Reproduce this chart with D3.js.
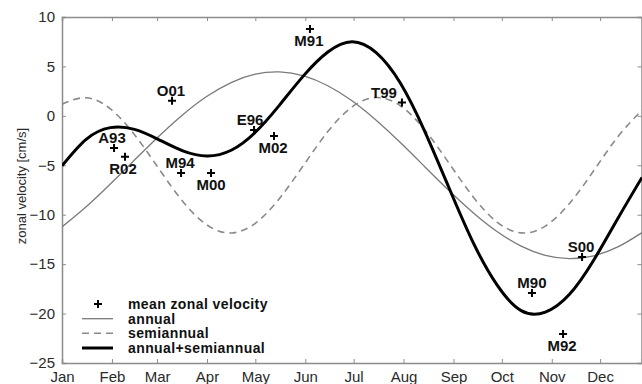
<!DOCTYPE html>
<html><head><meta charset="utf-8">
<script src="https://cdn.jsdelivr.net/npm/d3@7"></script>
<style>
html,body{margin:0;padding:0;background:#fff;}
svg{display:block;}
</style></head>
<body>
<script>
// ---- data ----
const months = ["Jan","Feb","Mar","Apr","May","Jun","Jul","Aug","Sep","Oct","Nov","Dec"];
const monthStartDay = [0,31,59,90,120,151,181,212,243,273,304,334];
const yTicks = [10,5,0,-5,-10,-15,-20,-25];

const sampleDay = [0,15,30,45,60,75,90,105,120,135,150,165,180,195,210,225,240,255,270,285,300,315,330,345,360];
const annual = [-11.23,-9.20,-6.90,-4.47,-2.08,0.12,1.98,3.37,4.21,4.44,4.05,3.05,1.52,-0.45,-2.70,-5.12,-7.53,-9.77,-11.70,-13.18,-14.12,-14.45,-14.16,-13.26,-11.81];
const semiannual = [1.18,1.83,0.71,-1.90,-5.32,-8.66,-11.04,-11.85,-10.87,-8.35,-4.98,-1.59,0.90,1.85,1.02,-1.39,-4.74,-8.15,-10.74,-11.84,-11.15,-8.86,-5.56,-2.12,0.58];
const combined = [-5.05,-2.37,-1.19,-1.37,-2.40,-3.54,-4.06,-3.48,-1.66,1.09,4.07,6.46,7.50,6.40,3.32,-1.51,-7.20,-12.75,-17.10,-19.70,-19.85,-18.05,-14.60,-10.38,-6.23];

const obsName = ["A93","R02","O01","M94","M00","E96","M02","M91","T99","S00","M90","M92"];
const obsDay  = [32.3,39.1,68.3,73.9,92.5,119.2,131.6,153.9,211.0,322.8,291.7,311.0];
const obsVel  = [-3.25,-4.13,1.54,-5.78,-5.78,-1.43,-2.03,8.79,1.34,-14.27,-17.91,-22.06];

const legendLabels = ["mean zonal velocity","annual","semiannual","annual+semiannual"];

// ---- label placement (style) ----
const labelSide = {A93:"above",R02:"below",O01:"above",M94:"above",M00:"below",E96:"above",M02:"below",M91:"below",T99:"above",S00:"above",M90:"above",M92:"below"};
const labelShift = {A93:-2,R02:-2,O01:-1,M94:-1,M00:0,E96:-4,M02:-1,M91:-1,T99:-18,S00:-1,M90:0,M92:-1};

// ---- layout ----
const W = 642, H = 384;
const L = 62, R = 642, T = 17, B = 363;
const x = d3.scaleLinear().domain([0,360]).range([L,R]);
const y = d3.scaleLinear().domain([-25,10]).range([B,T]);

const svg = d3.select("body").append("svg").attr("width",W).attr("height",H)
  .style("font-family","'Liberation Sans', Arial, Helvetica, sans-serif");

svg.append("clipPath").attr("id","clip").append("rect")
  .attr("x",L).attr("y",T).attr("width",R-L).attr("height",B-T);

const axisColor = "#8c8c8c";
const textColor = "#2a2a2a";

// axes
const gB = svg.append("g").attr("transform",`translate(0,${B})`)
  .call(d3.axisBottom(x).tickValues(monthStartDay).tickSize(-4).tickPadding(6).tickFormat((d,i)=>months[i]));
const gT = svg.append("g").attr("transform",`translate(0,${T})`)
  .call(d3.axisTop(x).tickValues(monthStartDay.slice(1)).tickSize(-4).tickFormat(""));
const gL = svg.append("g").attr("transform",`translate(${L},0)`)
  .call(d3.axisLeft(y).tickValues(yTicks).tickSize(-4).tickPadding(6).tickFormat(d=>String(d).replace("-","\u2212")));
const gR = svg.append("g").attr("transform",`translate(${R-0.5},0)`)
  .call(d3.axisRight(y).tickValues(yTicks).tickSize(-4).tickFormat(""));
[gB,gT,gL,gR].forEach(g=>{
  g.select(".domain").attr("stroke",axisColor).attr("stroke-width",1.5);
  g.selectAll(".tick line").attr("stroke",axisColor).attr("stroke-width",1);
  g.selectAll("text").attr("fill",textColor).style("font-size","15px");
});
gB.selectAll(".tick text").attr("dy","0.85em");
gL.selectAll(".tick text").attr("dx","-1");

// y label
svg.append("text").attr("transform","translate(23,186) rotate(-90)")
  .attr("text-anchor","middle").attr("dominant-baseline","middle")
  .style("font-size","13px").attr("fill",textColor).text("zonal velocity [cm/s]");

// curves
const line = (vals)=> d3.line().x((d,i)=>x(sampleDay[i])).y(d=>y(d)).curve(d3.curveNatural)(vals);
const plot = svg.append("g").attr("clip-path","url(#clip)");
plot.append("path").attr("d",line(annual)).attr("fill","none").attr("stroke","#7a7a7a").attr("stroke-width",1.3);
plot.append("path").attr("d",line(semiannual)).attr("fill","none").attr("stroke","#8a8a8a").attr("stroke-width",1.6).attr("stroke-dasharray","7,5");
plot.append("path").attr("d",line(combined)).attr("fill","none").attr("stroke","#000").attr("stroke-width",3);

// observation markers
const plus = (g,cx,cy,s)=>{
  g.append("path").attr("d",`M${cx-s},${cy}H${cx+s}M${cx},${cy-s}V${cy+s}`)
   .attr("stroke","#000").attr("stroke-width",2);
};
const mk = svg.append("g");
obsName.forEach((n,i)=>{
  const cx = x(obsDay[i]), cy = y(obsVel[i]);
  plus(mk,cx,cy,4);
  const above = labelSide[n]==="above";
  mk.append("text").attr("x",cx+labelShift[n]).attr("y",above? cy-5 : cy+17)
    .attr("text-anchor","middle").style("font-size","15px").style("font-weight","bold")
    .attr("fill","#111").text(n);
});

// legend
const lg = svg.append("g");
const rowY = [304,318.7,333.3,348];
plus(lg,98,rowY[0],4);
lg.append("line").attr("x1",82).attr("x2",113).attr("y1",rowY[1]).attr("y2",rowY[1]).attr("stroke","#7a7a7a").attr("stroke-width",1.3);
lg.append("line").attr("x1",82).attr("x2",113).attr("y1",rowY[2]).attr("y2",rowY[2]).attr("stroke","#8a8a8a").attr("stroke-width",1.6).attr("stroke-dasharray","7,5");
lg.append("line").attr("x1",82).attr("x2",113).attr("y1",rowY[3]).attr("y2",rowY[3]).attr("stroke","#000").attr("stroke-width",3);
legendLabels.forEach((t,i)=>{
  lg.append("text").attr("x",128).attr("y",rowY[i]+5).style("font-size","14px").style("font-weight","bold")
    .style("letter-spacing","0.4px").attr("fill","#111").text(t);
});
</script>
</body></html>
